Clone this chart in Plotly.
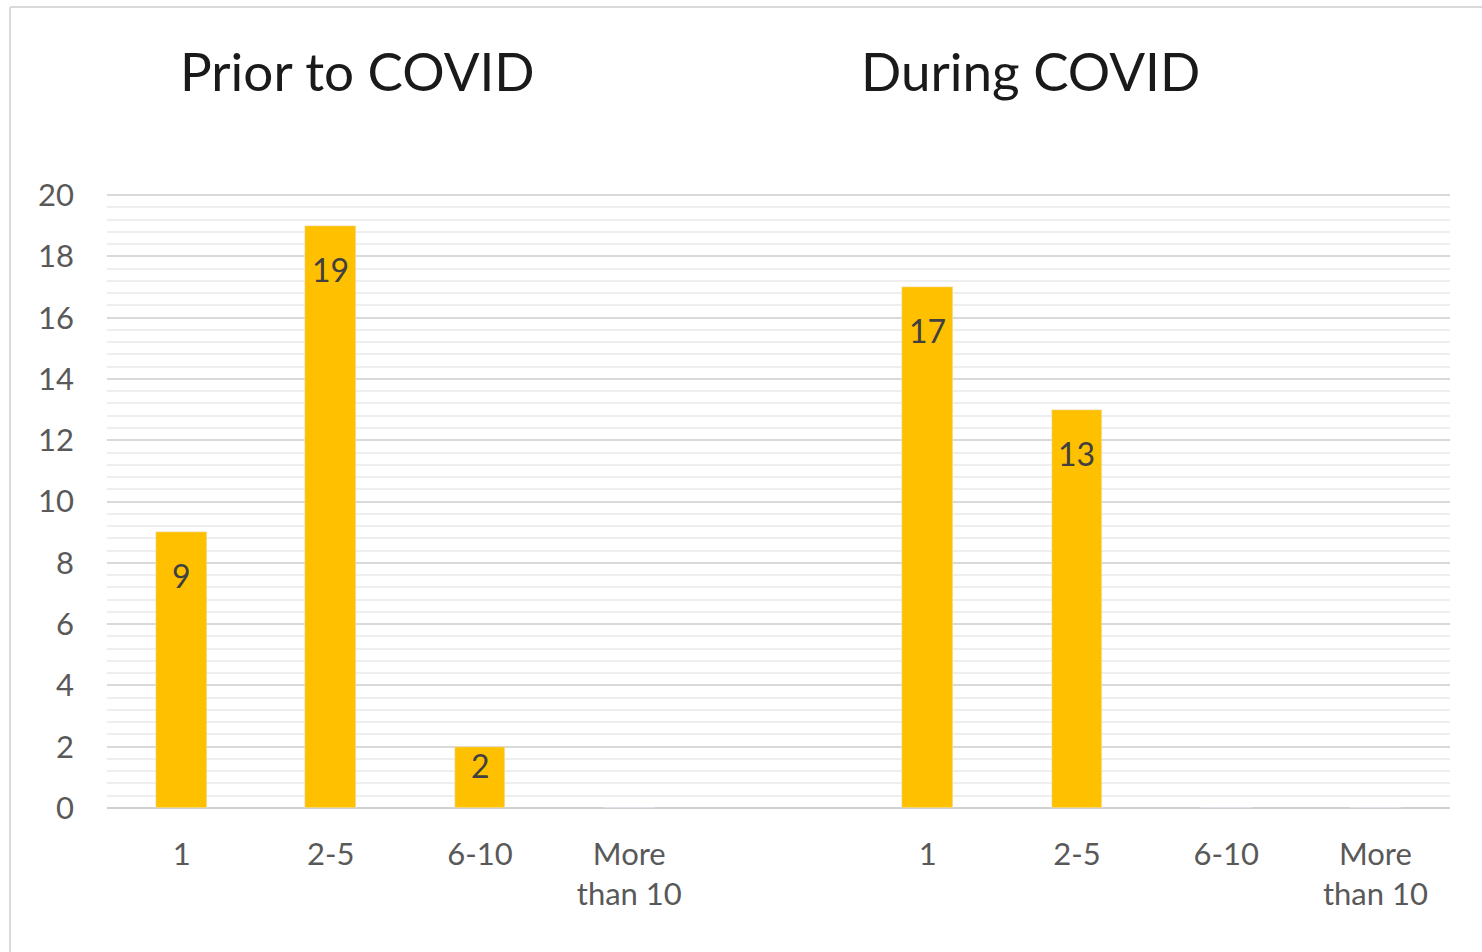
import plotly.graph_objects as go

categories = ["1", "2-5", "6-10", "More<br>than 10"]
prior_values = [9, 19, 2, 0]
during_values = [17, 13, 0, 0]
group_titles = ["Prior to COVID", "During COVID"]
y_ticks = [0, 2, 4, 6, 8, 10, 12, 14, 16, 18, 20]

prior_x = [0, 1, 2, 3]
during_x = [5, 6, 7, 8]

W, H = 1482, 952
L, R, T, B = 107, 32, 192, 144
gold = "#FFC000"
y_max = 20.1

pw, ph = W - L - R, H - T - B
px_per_unit = ph / y_max

fig = go.Figure()
for xs, vals in [(prior_x, prior_values), (during_x, during_values)]:
    fig.add_trace(go.Bar(
        x=xs, y=vals, marker_color=gold, width=0.34,
        showlegend=False, hoverinfo="x+y",
    ))
    # data labels placed inside the bar end (Excel "inside end" style)
    for x, v in zip(xs, vals):
        if not v:
            continue
        offset = 22 if v * px_per_unit > 120 else -3
        fig.add_annotation(x=x, y=v, xref="x", yref="y", text=str(v),
                           showarrow=False, xanchor="center", yanchor="top",
                           yshift=-offset,
                           font=dict(family="Lato", size=32, color="#404040"))

fig.update_layout(
    width=W, height=H,
    margin=dict(l=L, r=R, t=T, b=B),
    paper_bgcolor="white", plot_bgcolor="white",
    font=dict(family="Lato", color="#595959"),
    bargap=0,
)
fig.update_xaxes(
    range=[-0.5, 8.5],
    tickvals=prior_x + during_x,
    ticktext=categories + categories,
    tickfont=dict(size=31, color="#595959"),
    showgrid=False, zeroline=False, showline=False, ticks="",
    ticklabelstandoff=25,
)
fig.update_yaxes(
    range=[0, y_max],
    tickvals=y_ticks,
    tickfont=dict(size=31, color="#595959"),
    showgrid=True, gridcolor="#d9d9d9", gridwidth=2,
    minor=dict(tick0=0, dtick=0.4, showgrid=True, gridcolor="#eeeeee", gridwidth=1.5),
    zeroline=True, zerolinecolor="#d0d0d0", zerolinewidth=2,
    ticks="", ticklabelstandoff=32,
)

def px(x): return (x - L) / pw
def py(y): return (H - B - y) / ph

# outer chart frame
fig.add_shape(type="line", xref="paper", yref="paper",
              x0=px(10), x1=px(10), y0=py(7), y1=py(952),
              line=dict(color="#d9d9d9", width=2))
fig.add_shape(type="line", xref="paper", yref="paper",
              x0=px(10), x1=px(1482), y0=py(7), y1=py(7),
              line=dict(color="#d9d9d9", width=2))

for title, cx in zip(group_titles, [357, 1030]):
    fig.add_annotation(text=title, xref="paper", yref="paper",
                       x=px(cx), y=py(70), showarrow=False,
                       xanchor="center", yanchor="middle",
                       font=dict(family="Lato", size=53, color="#1a1a1a"))

fig.write_html("out.html", config={"displayModeBar": False},
               post_script="document.body.style.margin='0';")
